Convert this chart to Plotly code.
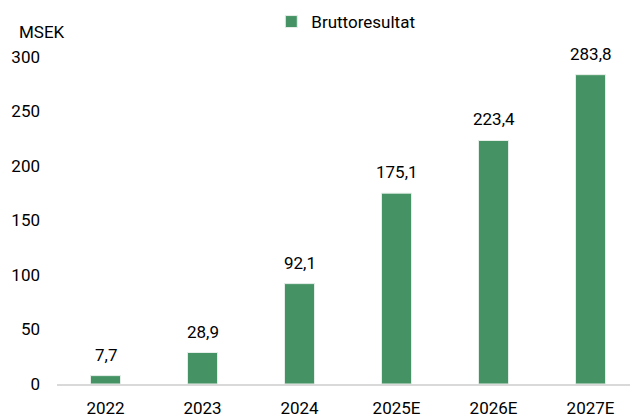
import plotly.graph_objects as go

categories = ["2022", "2023", "2024", "2025E", "2026E", "2027E"]
values = [7.7, 28.9, 92.1, 175.1, 223.4, 283.8]
value_labels = ["7,7", "28,9", "92,1", "175,1", "223,4", "283,8"]
y_ticks = [0, 50, 100, 150, 200, 250, 300]
series_name = "Bruttoresultat"
unit_label = "MSEK"

FONT = "Roboto, Arial, sans-serif"
FS = 17
GREEN = "#459364"

fig = go.Figure()
fig.add_trace(go.Bar(
    x=categories, y=values, name=series_name,
    marker=dict(color=GREEN, line=dict(color="#e6efe9", width=1)),
    width=0.31, showlegend=True,
))

for i, (v, t) in enumerate(zip(values, value_labels)):
    fig.add_annotation(x=i, y=v, text=t, showarrow=False, yshift=21,
                       yanchor="middle", font=dict(family=FONT, size=FS, color="#000"))

fig.add_annotation(xref="paper", yref="paper", x=-0.07, y=1.077, text=unit_label,
                   showarrow=False, xanchor="left", yanchor="middle",
                   font=dict(family=FONT, size=FS, color="#000"))

fig.update_layout(
    width=630, height=417,
    margin=dict(l=57, r=0, t=57, b=33),
    paper_bgcolor="white", plot_bgcolor="white",
    font=dict(family=FONT, size=FS, color="#000"),
    showlegend=True,
    legend=dict(orientation="h", x=0.374, y=1.107, xanchor="left", yanchor="middle",
                font=dict(family=FONT, size=FS, color="#000"), itemwidth=30,
                bgcolor="rgba(0,0,0,0)"),
    xaxis=dict(type="category", range=[-0.5, 5.407], showgrid=False, showline=True,
               linecolor="#d9d9d9", linewidth=2, ticks="", ticklabelstandoff=8),
    yaxis=dict(range=[0, 300], tickvals=y_ticks, showgrid=False, showline=False,
               zeroline=False, ticks="", ticklabelstandoff=16),
)

fig.write_html("out.html", config={"displayModeBar": False},
               post_script="document.body.style.margin='0px';")
